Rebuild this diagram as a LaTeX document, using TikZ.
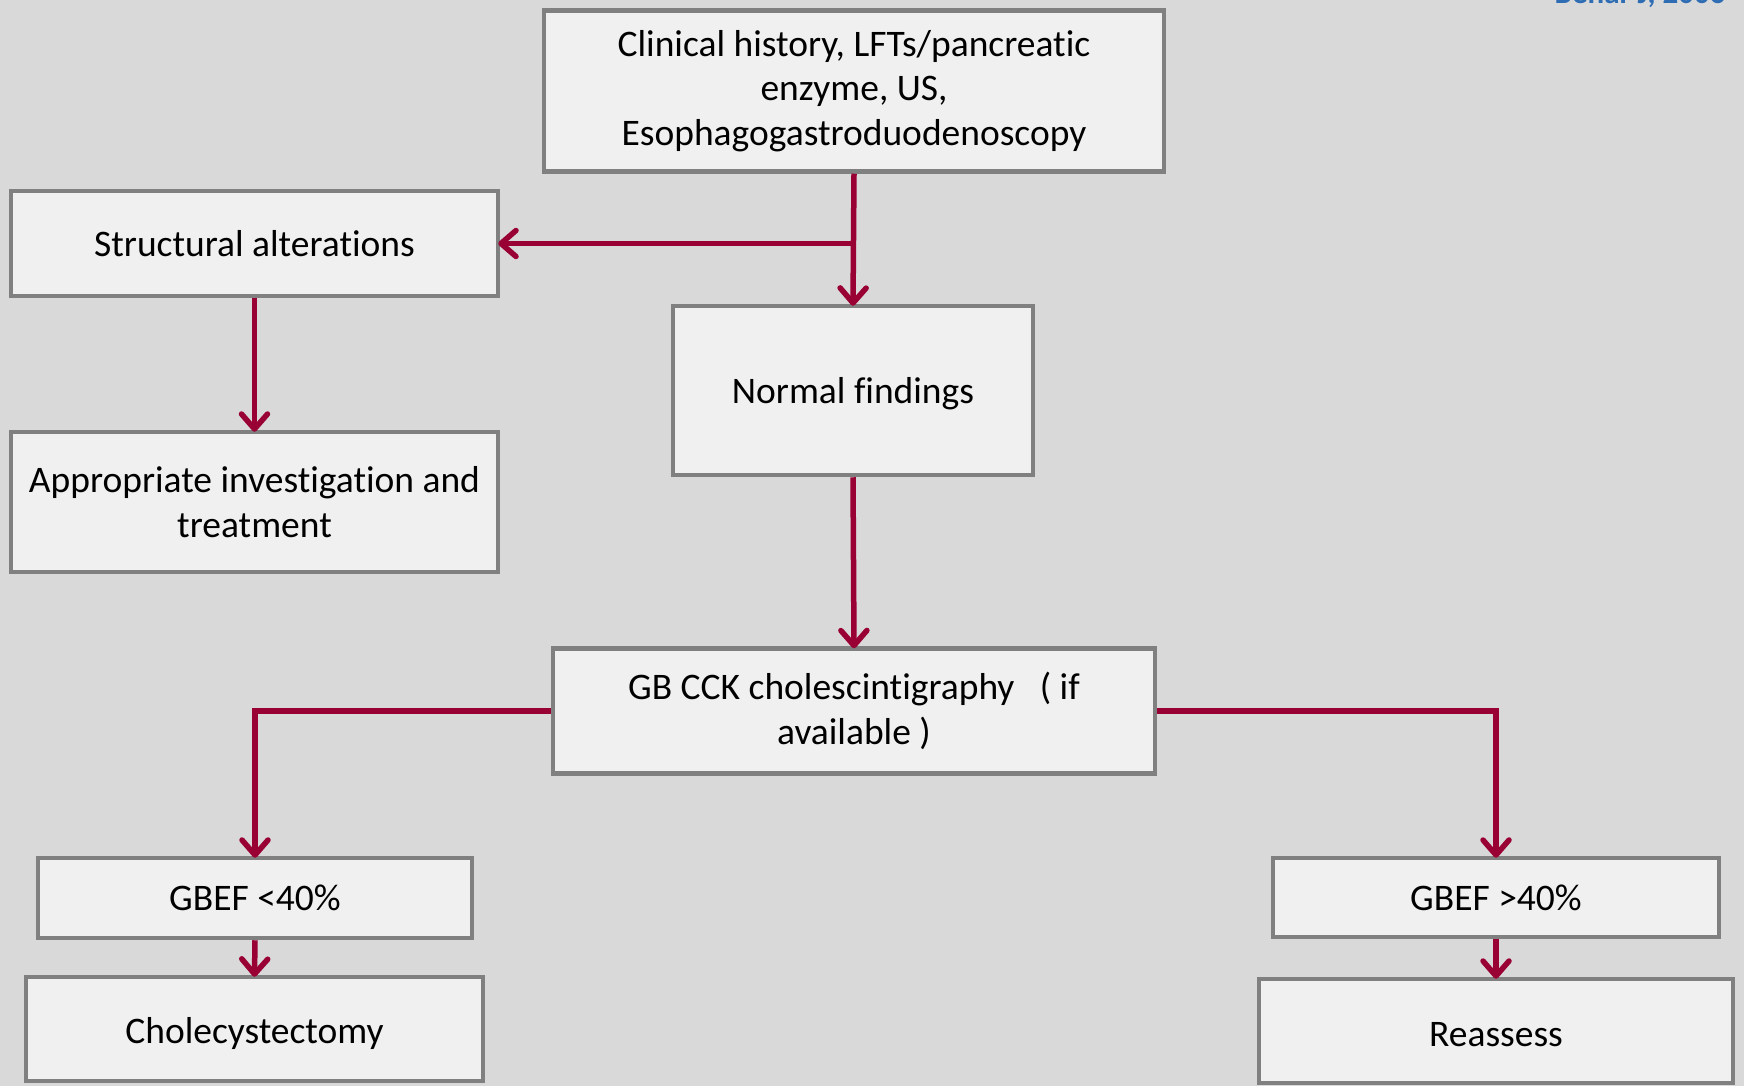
\documentclass[tikz,border=0pt]{standalone}
\usepackage{fontspec}
\setmainfont{Carlito}[Ligatures={NoCommon}]
\usetikzlibrary{arrows.meta}
\definecolor{bgc}{HTML}{D9D9D9}
\definecolor{boxfill}{HTML}{F0F0F0}
\definecolor{boxline}{HTML}{808080}
\definecolor{arrc}{RGB}{153,0,51}
\definecolor{credc}{HTML}{2E6DB4}
\newcommand{\lowertext}[2]{\raisebox{-#1}[\height][\depth]{#2}}
\begin{document}
\begin{tikzpicture}[x=1pt,y=-1pt,
  flowbox/.style={draw=boxline, fill=boxfill, line width=4.5pt, inner sep=0pt,
    align=center, font=\fontsize{37.5}{44.5}\selectfont},
  arr/.style={draw=arrc, line width=5.5pt, shorten >=-2pt,
    -{Straight Barb[length=15pt,width=26pt,round]}}]
\useasboundingbox[fill=bgc] (0,0) rectangle (1744,1086);
\node[font=\bfseries\fontsize{31}{34}\selectfont, text=credc, anchor=base east] (cred) at (1729,4) {Behar J, 2006};
\node[flowbox, minimum width=620pt, minimum height=161pt] (top) at (854,91)
  {Clinical history, LFTs/pancreatic\\enzyme, US,\\Esophagogastroduodenoscopy};
\node[flowbox, minimum width=487pt, minimum height=105pt] (struct) at (254.5,243.5) {Structural alterations};
\node[flowbox, minimum width=360pt, minimum height=169pt] (normal) at (853,390.5) {\lowertext{3.5pt}{Normal findings}};
\node[flowbox, minimum width=487pt, minimum height=140pt] (approp) at (254.5,502) {Appropriate investigation and\\treatment};
\node[flowbox, minimum width=602pt, minimum height=125pt] (gb) at (854,711) {GB CCK cholescintigraphy\ \ \ ( if\\available )};
\node[flowbox, minimum width=434pt, minimum height=80pt] (lt) at (255,898) {GBEF <40\%};
\node[flowbox, minimum width=457pt, minimum height=104pt] (chole) at (254.5,1029) {\lowertext{4pt}{Cholecystectomy}};
\node[flowbox, minimum width=446pt, minimum height=79pt] (gt) at (1496,897.5) {GBEF >40\%};
\node[flowbox, minimum width=474pt, minimum height=104pt] (reass) at (1496,1031) {\lowertext{3.5pt}{Reassess}};
\draw[arr] (top.south) -- (normal.north);
\draw[arr] (top.south |- struct.east) -- (struct.east);
\draw[arr] (struct.south) -- (approp.north);
\draw[arr] (normal.south) -- (gb.north);
\draw[arr] (gb.west) -| (lt.north);
\draw[arr] (gb.east) -| (gt.north);
\draw[arr] (lt.south) -- (chole.north);
\draw[arr] (gt.south) -- (reass.north);
\end{tikzpicture}
\end{document}
